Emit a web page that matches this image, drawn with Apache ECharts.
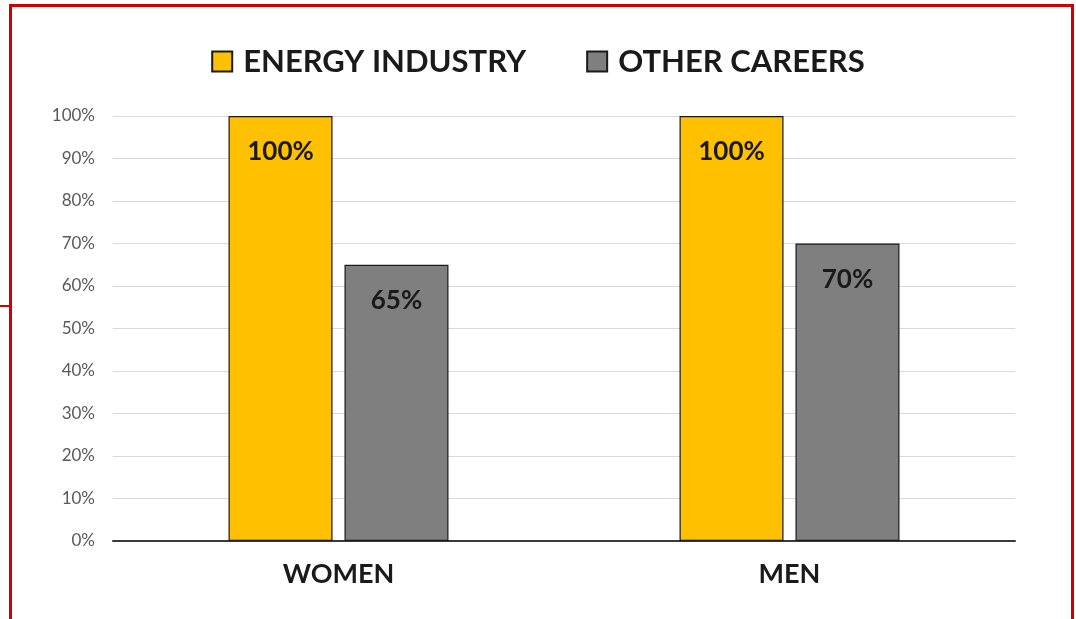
<!DOCTYPE html>
<html>
<head>
<meta charset="utf-8">
<script src="https://cdn.jsdelivr.net/npm/echarts@6/dist/echarts.min.js"></script>
<style>
  html, body { margin: 0; padding: 0; background: #fff; }
  #chart { width: 1076px; height: 619px; }
</style>
</head>
<body>
<div id="chart"></div>
<script>
// Share of respondents, by group and career type
const categories = ['WOMEN', 'MEN'];
const energyIndustry = [100, 100];
const otherCareers = [65, 70];
const seriesNames = ['ENERGY INDUSTRY', 'OTHER CAREERS'];
const yTicks = [0, 10, 20, 30, 40, 50, 60, 70, 80, 90, 100];

const FONT = 'Lato, "Open Sans", sans-serif';

const chart = echarts.init(document.getElementById('chart'), null, { renderer: 'canvas' });

const barLabel = {
  show: true,
  position: 'insideTop',
  distance: 23,
  formatter: p => p.value + '%',
  fontFamily: FONT,
  fontWeight: 'bold',
  fontSize: 26,
  color: '#1a1a1a'
};

chart.setOption({
  backgroundColor: '#ffffff',
  animation: false,
  graphic: [
    {
      type: 'rect',
      shape: { x: 10.5, y: 5.5, width: 1062, height: 640 },
      style: { fill: 'none', stroke: '#d00000', lineWidth: 3 },
      z: 100
    },
    {
      type: 'line',
      shape: { x1: 0, y1: 306, x2: 10, y2: 306 },
      style: { stroke: '#d00000', lineWidth: 2 },
      z: 100
    }
  ],
  legend: {
    data: seriesNames,
    top: 41,
    left: 'center',
    itemWidth: 20,
    itemHeight: 20,
    itemGap: 60,
    icon: 'rect',
    textStyle: {
      fontFamily: FONT,
      fontWeight: 'bold',
      fontSize: 31,
      color: '#1a1a1a',
      padding: [0, 0, 0, 6]
    }
  },
  grid: {
    left: 113,
    right: 61,
    top: 116,
    bottom: 78,
    containLabel: false
  },
  xAxis: {
    type: 'category',
    data: categories,
    axisLine: { lineStyle: { color: '#3a3a3a', width: 2 } },
    axisTick: { show: false },
    axisLabel: {
      margin: 20,
      fontFamily: FONT,
      fontWeight: 'bold',
      fontSize: 27,
      color: '#1a1a1a'
    }
  },
  yAxis: {
    type: 'value',
    min: yTicks[0],
    max: yTicks[yTicks.length - 1],
    interval: 10,
    axisLine: { show: false },
    axisTick: { show: false },
    splitLine: { lineStyle: { color: '#d9d9d9', width: 1 } },
    axisLabel: {
      margin: 18,
      fontFamily: FONT,
      fontSize: 17,
      color: '#595959',
      formatter: v => v + '%'
    }
  },
  series: [
    {
      name: seriesNames[0],
      type: 'bar',
      data: energyIndustry,
      barWidth: 104,
      barGap: '11.5%',
      itemStyle: { color: '#FFC000', borderColor: '#1a1a1a', borderWidth: 1.2 },
      label: barLabel
    },
    {
      name: seriesNames[1],
      type: 'bar',
      data: otherCareers,
      barWidth: 104,
      barGap: '11.5%',
      itemStyle: { color: '#7F7F7F', borderColor: '#1a1a1a', borderWidth: 1.2 },
      label: barLabel
    }
  ]
});
</script>
</body>
</html>
